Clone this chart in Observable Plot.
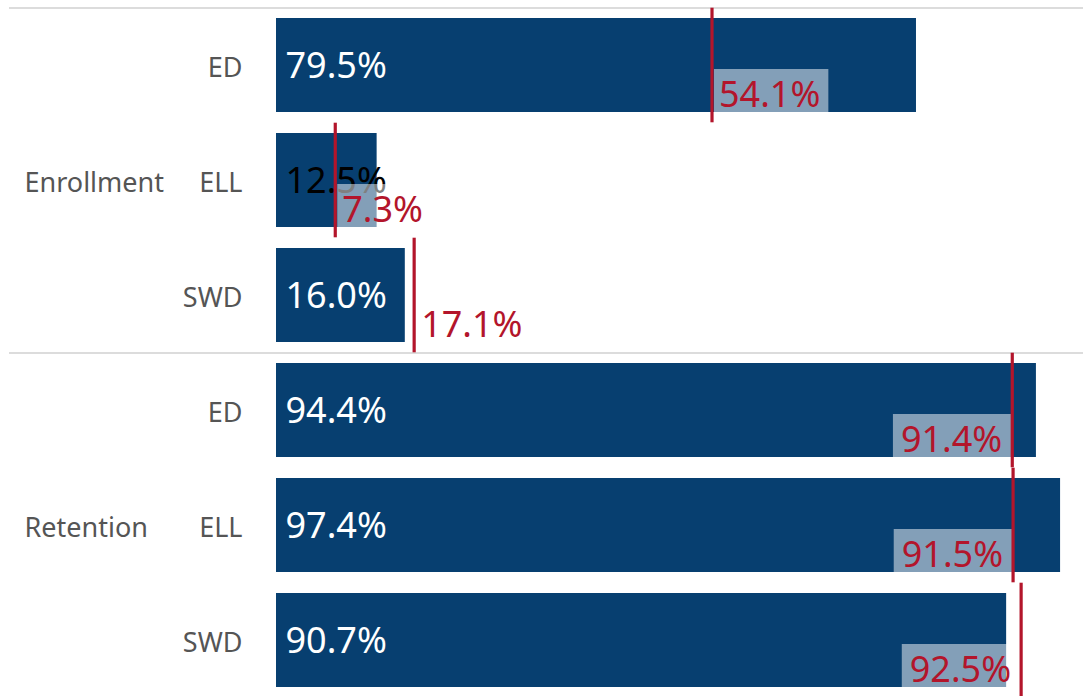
<!DOCTYPE html>
<html>
<head>
<meta charset="utf-8">
<script src="https://cdn.jsdelivr.net/npm/d3@7"></script>
<script src="https://cdn.jsdelivr.net/npm/@observablehq/plot@0.6"></script>
<style>
  html, body { margin: 0; padding: 0; background: #fff; }
  svg { display: block; }
</style>
</head>
<body>
<script>
const groups = ["Enrollment", "Enrollment", "Enrollment", "Retention", "Retention", "Retention"];
const categories = ["ED", "ELL", "SWD", "ED", "ELL", "SWD"];
const values = [79.5, 12.5, 16.0, 94.4, 97.4, 90.7];
const references = [54.1, 7.3, 17.1, 91.4, 91.5, 92.5];
const groupNames = ["Enrollment", "Retention"];

const data = groups.map((g, i) => ({
  group: g, category: categories[i], key: g + "|" + categories[i],
  value: values[i], ref: references[i]
}));
const keys = data.map(d => d.key);
const groupFirst = groupNames.map(g => data.find(d => d.group === g).key);
const groupMiddle = groupNames.map(g => data.filter(d => d.group === g)[1].key);

const yRange = [7.4, 698.6];
const step = (yRange[1] - yRange[0]) / keys.length;
const BAR = "#073f70", RED = "#b3152b", GREY = "#555";
const fmt = v => v.toFixed(1) + "%";

const rightLabels = data.filter(d => d.ref <= 85);
const leftLabels = data.filter(d => d.ref > 85);

const chart = Plot.plot({
  width: 1083, height: 696,
  marginLeft: 276, marginRight: 2, marginTop: 0, marginBottom: 0,
  style: {fontFamily: "Noto Sans", background: "white"},
  x: {domain: [0, 100], axis: null},
  y: {domain: keys, range: yRange, paddingInner: 0.18, paddingOuter: 0.09, axis: null},
  marks: [
    Plot.ruleY(groupFirst, {y: d => d, dy: -step / 2, stroke: "#dcdcdc", strokeWidth: 2, insetLeft: -267, insetRight: -2}),
    Plot.axisY({tickSize: 0, tickPadding: 34, tickFormat: k => k.split("|")[1], fontSize: 27, color: GREY, label: null, dy: 3}),
    Plot.text(groupNames, {y: (g, i) => groupMiddle[i], text: d => d, frameAnchor: "left", textAnchor: "start", dx: -252, dy: 3, fontSize: 27, fill: GREY}),
    Plot.barX(data, {x: "value", y: "key", fill: BAR}),
    Plot.text(data, {x: 0, y: "key", text: d => fmt(d.value), textAnchor: "start", dx: 9, dy: 1, fontSize: 36, fill: d => d.value < 15 ? "black" : "white"}),
    Plot.text(rightLabels, {x: "ref", y: "key", text: d => fmt(d.ref), textAnchor: "start", dx: 7, dy: 30, fontSize: 36, fill: RED, className: "reflabel-r"}),
    Plot.text(leftLabels, {x: "ref", y: "key", text: d => fmt(d.ref), textAnchor: "end", dx: -10, dy: 30, fontSize: 36, fill: RED, className: "reflabel-l"}),
    Plot.tickX(data, {x: "ref", y: "key", stroke: RED, strokeWidth: 3.2, insetTop: -10.3, insetBottom: -10.3})
  ]
});
document.body.append(chart);

// label background boxes (semi-transparent white, like Tableau's reference-line label band)
(function () {
  const svg = chart;
  const ys = chart.scale("y");
  const svgBox = svg.getBoundingClientRect();
  const gR = svg.querySelector("g.reflabel-r");
  const boxes = document.createElementNS("http://www.w3.org/2000/svg", "g");
  const add = (sel, subset, padL, padR) => {
    svg.querySelectorAll(sel + " text").forEach((t, i) => {
      const d = subset[i];
      const b = t.getBoundingClientRect();
      const bottom = ys.apply(d.key) + ys.bandwidth;
      const r = document.createElementNS("http://www.w3.org/2000/svg", "rect");
      r.setAttribute("x", b.left - svgBox.left - padL);
      r.setAttribute("width", b.width + padL + padR);
      r.setAttribute("y", bottom - 43);
      r.setAttribute("height", 43);
      r.setAttribute("fill", "white");
      r.setAttribute("fill-opacity", 0.5);
      boxes.appendChild(r);
    });
  };
  add("g.reflabel-r", rightLabels, 5, 8);
  add("g.reflabel-l", leftLabels, 8, 9);
  svg.insertBefore(boxes, gR);
})();
</script>
</body>
</html>
